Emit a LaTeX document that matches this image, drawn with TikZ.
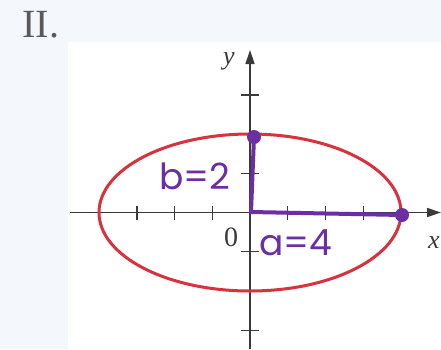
\documentclass[tikz,border=0pt]{standalone}
\usepackage{fontspec}
\setmainfont{Liberation Serif}
\newfontfamily\handfont{Poppins}
\usetikzlibrary{arrows.meta}
\definecolor{bgpanel}{HTML}{F4F7FB}
\definecolor{axisgray}{HTML}{3A3A3A}
\definecolor{titlegray}{HTML}{5A5A5A}
\definecolor{ellred}{HTML}{D8323E}
\definecolor{annpurple}{HTML}{6B2FA3}
\tikzset{
  axis/.style={draw=axisgray, line width=1.4pt},
  tick/.style={draw=axisgray, line width=1.2pt},
  ann/.style={draw=annpurple, line width=4pt, line cap=round, line join=round},
  dot/.style={circle, fill=annpurple, inner sep=0pt, minimum size=14pt},
  hand/.style={text=annpurple, font=\handfont\fontsize{36}{36}\selectfont, inner sep=0pt},
  lbl/.style={text=axisgray, inner sep=0pt},
}
\begin{document}
\begin{tikzpicture}[x=1pt,y=-1pt]
\useasboundingbox (0,0) rectangle (441,349);
\fill[bgpanel] (0,0) rectangle (441,349);
\fill[white] (68,42) rectangle (441,349);
% title
\node[lbl, text=titlegray, font=\fontsize{40}{40}\selectfont] (title) at (41,25) {II.};
% axes
\coordinate (O) at (250,212.5);
\coordinate (xl) at (70,212.5);
\coordinate (xr) at (441,212.5);
\coordinate (yb) at (250,349);
\coordinate (yt) at (250,50);
\draw[axis, -{Triangle[length=14pt,width=9pt]}] (xl) -- (xr);
\draw[axis, -{Triangle[length=14pt,width=9pt]}] (yb) -- (yt);
% ticks
\foreach \i in {-3,-2,-1,1,2,3} {
  \draw[tick] (250+37.7*\i,205.5) -- (250+37.7*\i,219.5);
}
\foreach \j in {-3,-1,1,3} {
  \draw[tick] (241,212.5-39.2*\j) -- (259,212.5-39.2*\j);
}
% labels
\node[lbl, font=\itshape\fontsize{26}{26}\selectfont] (ylab) at (229,61) {y};
\node[lbl, font=\itshape\fontsize{26}{26}\selectfont, anchor=west] (xlab) at (428,243) {x};
\node[lbl, font=\fontsize{28}{28}\selectfont] (zero) at (231,237) {0};
% ellipse
\draw[ellred, line width=3pt] (O) ellipse [x radius=151, y radius=78.5];
% annotations
\node[dot] (B) at (254,137) {};
\node[dot] (A) at (402,215) {};
\coordinate (C) at (251,212);
\draw[ann] (B) -- (C) -- (A);
\node[hand] (blab) at (195,176) {b=2};
\node[hand] (alab) at (296,243) {a=4};
\end{tikzpicture}
\end{document}
